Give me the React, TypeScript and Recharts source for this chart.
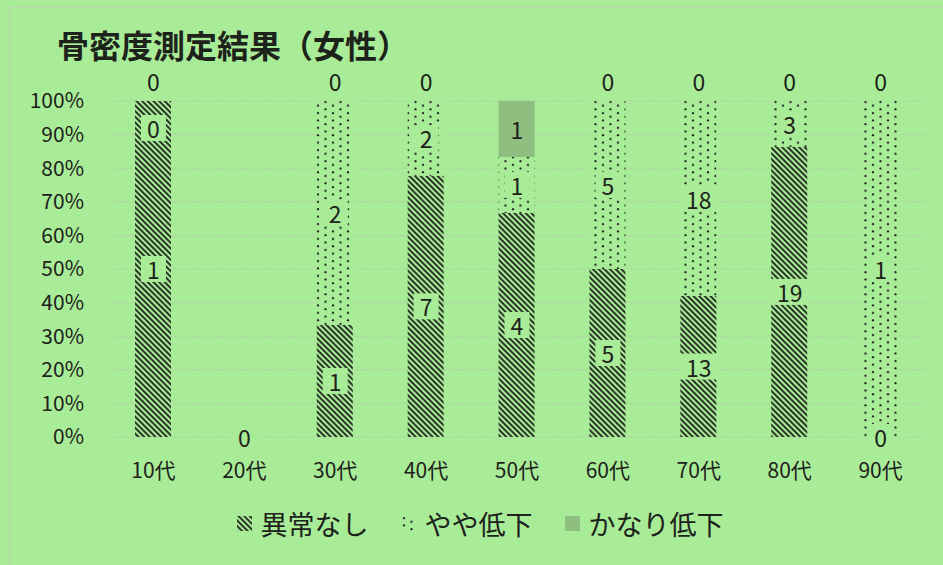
import { Bar, CartesianGrid, ComposedChart, Legend, Scatter, XAxis, YAxis } from 'recharts';

const categories = ['10代', '20代', '30代', '40代', '50代', '60代', '70代', '80代', '90代'];
const normal = [1, 0, 1, 7, 4, 5, 13, 19, 0];
const slight = [0, 0, 2, 2, 1, 5, 18, 3, 1];
const severe = [0, 0, 0, 0, 1, 0, 0, 0, 0];
const yTicks = [0, 0.1, 0.2, 0.3, 0.4, 0.5, 0.6, 0.7, 0.8, 0.9, 1];

const seriesNames = { normal: '異常なし', slight: 'やや低下', severe: 'かなり低下' };

const BG = '#a9ec98';
const INK = '#1d221b';
const SOLID = '#8fbf80';
const FONT = '"Noto Sans CJK JP", "Noto Sans", sans-serif';

type SeriesKey = 'normal' | 'slight' | 'severe';
const counts: Record<SeriesKey, number[]> = { normal, slight, severe };

// share of each group per age band, plus where its count label sits
const data = categories.map((name, i) => {
  const total = normal[i] + slight[i] + severe[i];
  const n = total ? normal[i] / total : 0;
  const s = total ? slight[i] / total : 0;
  const v = total ? severe[i] / total : 0;
  return {
    name,
    normal: n,
    slight: s,
    severe: v,
    normalPos: normal[i] ? n / 2 : 0,
    slightPos: total === 0 ? null : slight[i] ? n + s / 2 : n + s,
    severePos: total === 0 ? null : severe[i] ? n + s + v / 2 : n + s + v,
  };
});

const makeLabel = (key: SeriesKey) => (props: any) => {
  const { cx, cy, payload } = props;
  const i = categories.indexOf(payload?.name);
  if (i < 0 || cx == null || cy == null) return <g />;
  const value = counts[key][i];
  let y = Number(cy);
  if (value === 0 && key === 'severe') y -= 20;
  if (value === 0 && key === 'slight') y += 27;
  const text = String(value);
  const w = text.length * 13 + 12;
  // labels sitting on a solid block show no backing box
  const boxed = !(key === 'severe' && value > 0);
  return (
    <g>
      {boxed && <rect x={cx - w / 2} y={y - 13} width={w} height={26} fill={BG} />}
      <text
        x={cx}
        y={y}
        textAnchor="middle"
        dominantBaseline="central"
        fontSize={23}
        fontFamily={FONT}
        fill={INK}
      >
        {text}
      </text>
    </g>
  );
};

function LegendIcon({ kind }: { kind: SeriesKey }) {
  const fill = kind === 'normal' ? 'url(#hatch)' : kind === 'slight' ? 'url(#dots)' : SOLID;
  return (
    <svg width={15} height={15} style={{ marginRight: 9 }}>
      <rect x={0} y={0} width={15} height={15} fill={fill} />
    </svg>
  );
}

function ChartLegend() {
  const keys: SeriesKey[] = ['normal', 'slight', 'severe'];
  return (
    <div
      style={{
        height: 50,
        display: 'flex',
        justifyContent: 'center',
        alignItems: 'center',
        gap: 32,
        fontFamily: FONT,
        fontSize: 27,
        color: INK,
        paddingLeft: 34,
      }}
    >
      {keys.map((k) => (
        <div key={k} style={{ display: 'flex', alignItems: 'center' }}>
          <LegendIcon kind={k} />
          <span>{seriesNames[k]}</span>
        </div>
      ))}
    </div>
  );
}

export default function App() {
  return (
    <div
      style={{
        position: 'absolute',
        left: 0,
        top: 0,
        width: 943,
        height: 565,
        background: BG,
        overflow: 'hidden',
      }}
    >
      <div
        style={{
          position: 'absolute',
          left: 9,
          top: 7,
          width: 960,
          height: 600,
          borderLeft: '1px solid #bcd3b0',
          borderTop: '1px solid #bcd3b0',
        }}
      />
      <div
        style={{
          position: 'absolute',
          left: 57,
          top: 22,
          fontFamily: FONT,
          fontSize: 32,
          fontWeight: 'bold',
          color: INK,
          lineHeight: '44px',
          whiteSpace: 'nowrap',
        }}
      >
        骨密度測定結果（女性）
      </div>
      <ComposedChart
        width={943}
        height={565}
        data={data}
        margin={{ top: 101, right: 17, bottom: 17, left: 0 }}
        style={{ position: 'absolute', left: 0, top: 0 }}
      >
        <defs>
          <pattern id="hatch" patternUnits="userSpaceOnUse" width={4} height={4} patternTransform="rotate(-45)">
            <rect x={0} y={0} width={4} height={4} fill={BG} />
            <line x1={1} y1={0} x2={1} y2={4} stroke={INK} strokeWidth={1.8} />
          </pattern>
          <pattern id="dots" patternUnits="userSpaceOnUse" width={15} height={7.4}>
            <rect x={0} y={0} width={15} height={7.4} fill={BG} />
            <circle cx={3} cy={2} r={1.1} fill={INK} />
            <circle cx={10.5} cy={5.7} r={1.1} fill={INK} />
          </pattern>
        </defs>
        <CartesianGrid vertical={false} stroke="#b2cba6" strokeDasharray="2 1" />
        <XAxis
          dataKey="name"
          axisLine={false}
          tickLine={false}
          tickSize={0}
          tickMargin={26}
          height={61}
          tick={{ fontSize: 21, fontFamily: FONT, fill: INK }}
        />
        <YAxis
          domain={[0, 1]}
          ticks={yTicks}
          width={108}
          axisLine={false}
          tickLine={false}
          tickSize={0}
          tickMargin={24}
          tickFormatter={(v: number) => `${Math.round(v * 100)}%`}
          tick={{ fontSize: 21, fontFamily: FONT, fill: INK }}
          interval={0}
        />
        <Legend verticalAlign="bottom" content={() => <ChartLegend />} />
        <Bar dataKey="normal" name={seriesNames.normal} stackId="a" fill="url(#hatch)" barSize={36} isAnimationActive={false} />
        <Bar dataKey="slight" name={seriesNames.slight} stackId="a" fill="url(#dots)" barSize={36} isAnimationActive={false} />
        <Bar dataKey="severe" name={seriesNames.severe} stackId="a" fill={SOLID} barSize={36} isAnimationActive={false} />
        <Scatter dataKey="normalPos" shape={makeLabel('normal')} legendType="none" isAnimationActive={false} />
        <Scatter dataKey="slightPos" shape={makeLabel('slight')} legendType="none" isAnimationActive={false} />
        <Scatter dataKey="severePos" shape={makeLabel('severe')} legendType="none" isAnimationActive={false} />
      </ComposedChart>
    </div>
  );
}
